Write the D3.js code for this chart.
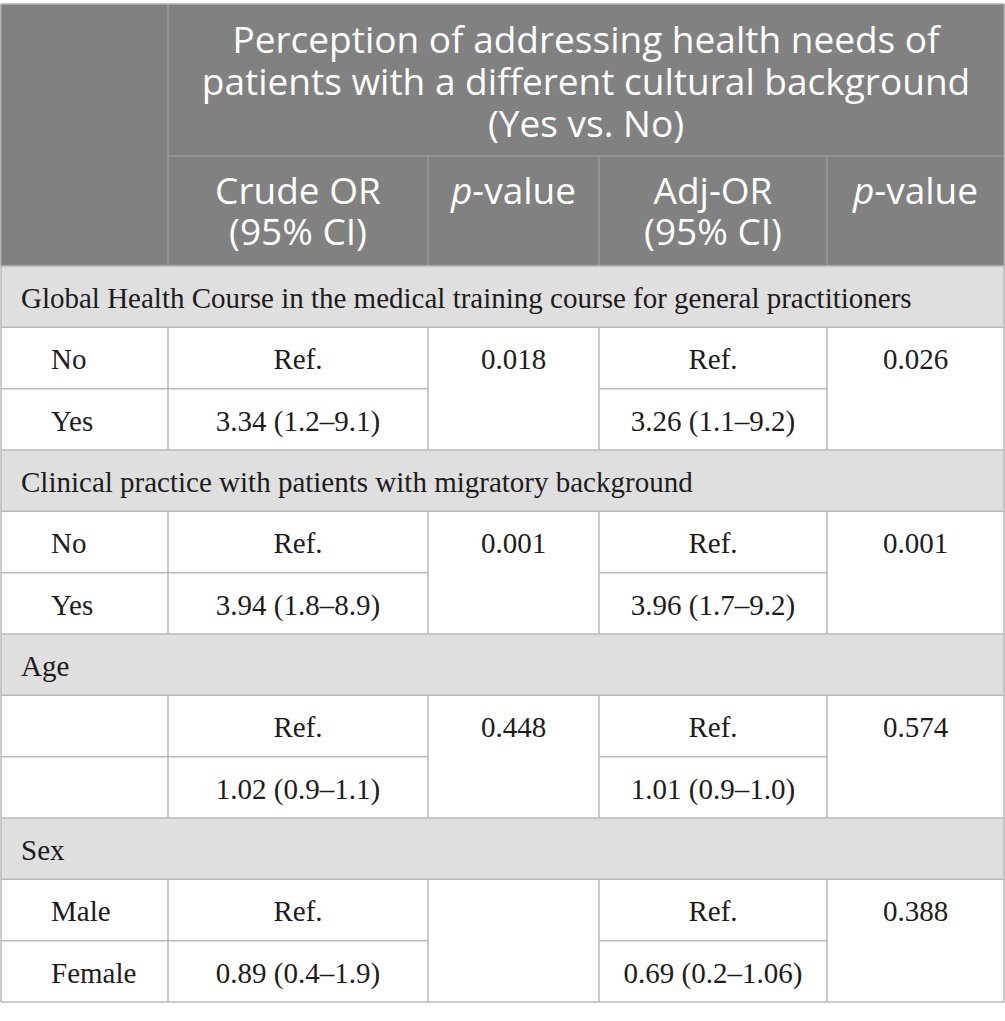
<!DOCTYPE html>
<html>
<head>
<meta charset="utf-8">
<script src="https://cdn.jsdelivr.net/npm/d3@7"></script>
<style>
  body { margin: 0; background: #fff; }
</style>
</head>
<body>
<div id="table"></div>
<script>
// table content
var title = ["Perception of addressing health needs of",
             "patients with a different cultural background",
             "(Yes vs. No)"];
var colHeads = [["Crude OR", "(95% CI)"], ["p-value"], ["Adj-OR", "(95% CI)"], ["p-value"]];
var groups = ["Global Health Course in the medical training course for general practitioners",
              "Clinical practice with patients with migratory background",
              "Age",
              "Sex"];
var levels = [["No", "Yes"], ["No", "Yes"], ["", ""], ["Male", "Female"]];
var crudeOR = [["Ref.", "3.34 (1.2\u20139.1)"], ["Ref.", "3.94 (1.8\u20138.9)"],
               ["Ref.", "1.02 (0.9\u20131.1)"], ["Ref.", "0.89 (0.4\u20131.9)"]];
var crudeP = ["0.018", "0.001", "0.448", ""];
var adjOR = [["Ref.", "3.26 (1.1\u20139.2)"], ["Ref.", "3.96 (1.7\u20139.2)"],
             ["Ref.", "1.01 (0.9\u20131.0)"], ["Ref.", "0.69 (0.2\u20131.06)"]];
var adjP = ["0.026", "0.001", "0.574", "0.388"];

var width = 1005, height = 1021;
var cols = [1, 168, 428, 599, 827, 1004];   // column edges
var top0 = 4, head1 = 156, head2 = 266, bottom = 1002;
var nRows = groups.length * 3;

var rowY = d3.scaleLinear().domain([0, nRows]).range([head2, bottom]);

var headBg = "#808180", headLine = "#9a9b9a", groupBg = "#e0dfe0", bodyLine = "#b9b9b9";
var sans = "'Open Sans', 'Noto Sans', sans-serif";
var serif = "'Liberation Serif', 'DejaVu Serif', serif";

var svg = d3.select("#table").append("svg")
    .attr("width", width)
    .attr("height", height);

// header background
svg.append("rect")
    .attr("x", cols[0]).attr("y", top0)
    .attr("width", cols[5] - cols[0]).attr("height", head2 - top0)
    .attr("fill", headBg);

// group rows background
groups.forEach(function(g, i) {
  svg.append("rect")
      .attr("x", cols[0]).attr("y", rowY(i * 3))
      .attr("width", cols[5] - cols[0]).attr("height", rowY(1) - rowY(0))
      .attr("fill", groupBg);
});

// header lines
var hl = svg.append("g").attr("stroke", headLine).attr("stroke-width", 1.5);
hl.append("line").attr("x1", cols[1]).attr("x2", cols[5]).attr("y1", head1).attr("y2", head1);
hl.append("line").attr("x1", cols[0]).attr("x2", cols[0]).attr("y1", top0).attr("y2", head2);
hl.append("line").attr("x1", cols[1]).attr("x2", cols[1]).attr("y1", top0).attr("y2", head2);
hl.append("line").attr("x1", cols[5]).attr("x2", cols[5]).attr("y1", top0).attr("y2", head2);
[2, 3, 4].forEach(function(c) {
  hl.append("line").attr("x1", cols[c]).attr("x2", cols[c]).attr("y1", head1).attr("y2", head2);
});
svg.append("line").attr("x1", cols[0]).attr("x2", cols[5]).attr("y1", top0).attr("y2", top0)
    .attr("stroke", "#b0b0b0").attr("stroke-width", 1.5);

// title text
svg.append("text")
    .attr("text-anchor", "middle")
    .attr("font-family", sans).attr("font-size", 37).attr("fill", "#fff")
  .selectAll("tspan").data(title).join("tspan")
    .attr("x", (cols[1] + cols[5]) / 2)
    .attr("y", function(d, i) { return 53 + i * 42; })
    .text(function(d) { return d; });

// column headers
colHeads.forEach(function(lines, c) {
  var cx = (cols[c + 1] + cols[c + 2]) / 2;
  var t = svg.append("text")
      .attr("text-anchor", "middle")
      .attr("font-family", sans).attr("font-size", 37).attr("fill", "#fff");
  lines.forEach(function(line, j) {
    var ts = t.append("tspan").attr("x", cx).attr("y", 204 + j * 41);
    if (line.indexOf("p-") === 0) {
      ts.append("tspan").attr("font-style", "italic").text("p");
      ts.append("tspan").text(line.slice(1));
    } else {
      ts.text(line);
    }
  });
});

// body lines
var bl = svg.append("g").attr("stroke", bodyLine).attr("stroke-width", 1.5);
d3.range(nRows + 1).forEach(function(r) {
  var y = rowY(r);
  if (r % 3 === 2) {
    // line between sub rows, not across merged p-value cells
    [[0, 1], [1, 2], [3, 4]].forEach(function(p) {
      bl.append("line").attr("x1", cols[p[0]]).attr("x2", cols[p[1]]).attr("y1", y).attr("y2", y);
    });
  } else {
    bl.append("line").attr("x1", cols[0]).attr("x2", cols[5]).attr("y1", y).attr("y2", y);
  }
});
groups.forEach(function(g, i) {
  bl.append("line").attr("x1", cols[0]).attr("x2", cols[0]).attr("y1", rowY(i * 3)).attr("y2", rowY(i * 3 + 3));
  bl.append("line").attr("x1", cols[5]).attr("x2", cols[5]).attr("y1", rowY(i * 3)).attr("y2", rowY(i * 3 + 3));
  cols.slice(1, 5).forEach(function(x) {
    bl.append("line").attr("x1", x).attr("x2", x).attr("y1", rowY(i * 3 + 1)).attr("y2", rowY(i * 3 + 3));
  });
});

// body text
var body = svg.append("g").attr("font-family", serif).attr("font-size", 29).attr("fill", "#1d1b1b");
var base = 42;
function colCenter(c) { return (cols[c] + cols[c + 1]) / 2; }

groups.forEach(function(g, i) {
  body.append("text").attr("x", 21).attr("y", rowY(i * 3) + base).text(g);
  levels[i].forEach(function(lv, j) {
    var y = rowY(i * 3 + 1 + j) + base;
    body.append("text").attr("x", 51).attr("y", y).text(lv);
    body.append("text").attr("x", colCenter(1)).attr("y", y).attr("text-anchor", "middle").text(crudeOR[i][j]);
    body.append("text").attr("x", colCenter(3)).attr("y", y).attr("text-anchor", "middle").text(adjOR[i][j]);
  });
  var py = rowY(i * 3 + 1) + base;
  body.append("text").attr("x", colCenter(2)).attr("y", py).attr("text-anchor", "middle").text(crudeP[i]);
  body.append("text").attr("x", colCenter(4)).attr("y", py).attr("text-anchor", "middle").text(adjP[i]);
});
</script>
</body>
</html>
